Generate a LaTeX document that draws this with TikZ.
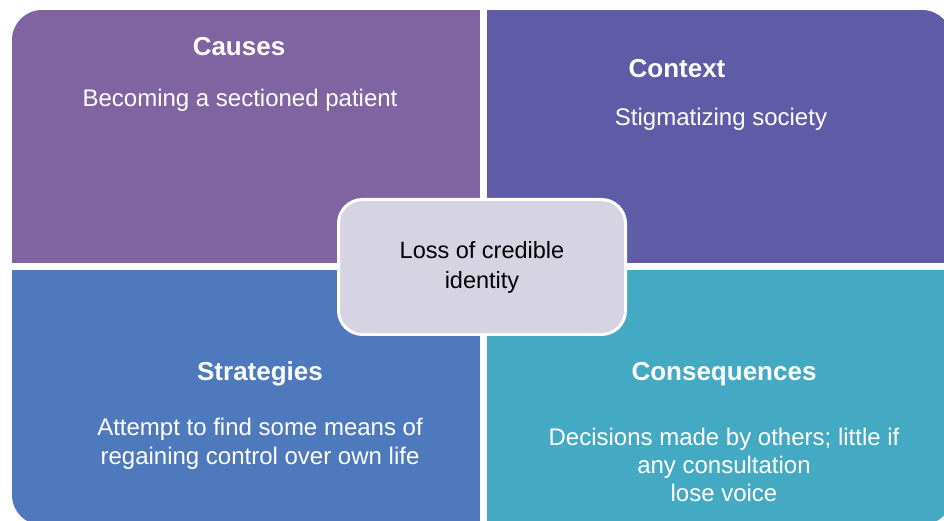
\documentclass[tikz,border=0pt]{standalone}
\usepackage{fontspec}
\setmainfont{Liberation Sans}
\definecolor{qtl}{HTML}{8064A2}
\definecolor{qtr}{HTML}{5F5BA7}
\definecolor{qbl}{HTML}{4F79BD}
\definecolor{qbr}{HTML}{44A9C3}
\definecolor{cbox}{HTML}{D6D3E3}
\tikzset{
  x=1pt,y=1pt,
  head/.style={text=white,font=\fontsize{26}{31}\selectfont\bfseries,inner sep=0pt},
  body/.style={text=white,font=\fontsize{24}{29}\selectfont,align=center,inner sep=0pt},
  centerbox/.style={draw=white,line width=3pt,fill=cbox,rounded corners=24pt,
    minimum width=287pt,minimum height=135pt,align=center,
    font=\fontsize{23.5}{30}\selectfont,text=black}
}
\begin{document}
\begin{tikzpicture}
\useasboundingbox (0,0) rectangle (944,521);
\clip (0,0) rectangle (944,521);
\begin{scope}
  \clip[rounded corners=30pt] (12,-4) rectangle (952,511);
  \fill[qtl] (12,258) rectangle (480,511);
  \fill[qtr] (487,258) rectangle (952,511);
  \fill[qbl] (12,-4) rectangle (480,251);
  \fill[qbr] (487,-4) rectangle (952,251);
\end{scope}
\node[head] (causes) at (239,474) {Causes};
\node[body] (causestxt) at (240,421) {Becoming a sectioned patient};
\node[head] (context) at (677,452) {Context};
\node[body] (contexttxt) at (721,402) {Stigmatizing society};
\node[head] (strat) at (260,147) {Strategies};
\node[body] (strattxt) at (260,77.5) {Attempt to find some means of\\regaining control over own life};
\node[head] (cons) at (724,147) {Consequences};
\node[body,font=\fontsize{24}{28}\selectfont] (constxt) at (724,56) {Decisions made by others; little if\\any consultation\\lose voice};
\node[centerbox] (center) at (482,254) {Loss of credible\\identity};
\end{tikzpicture}
\end{document}
